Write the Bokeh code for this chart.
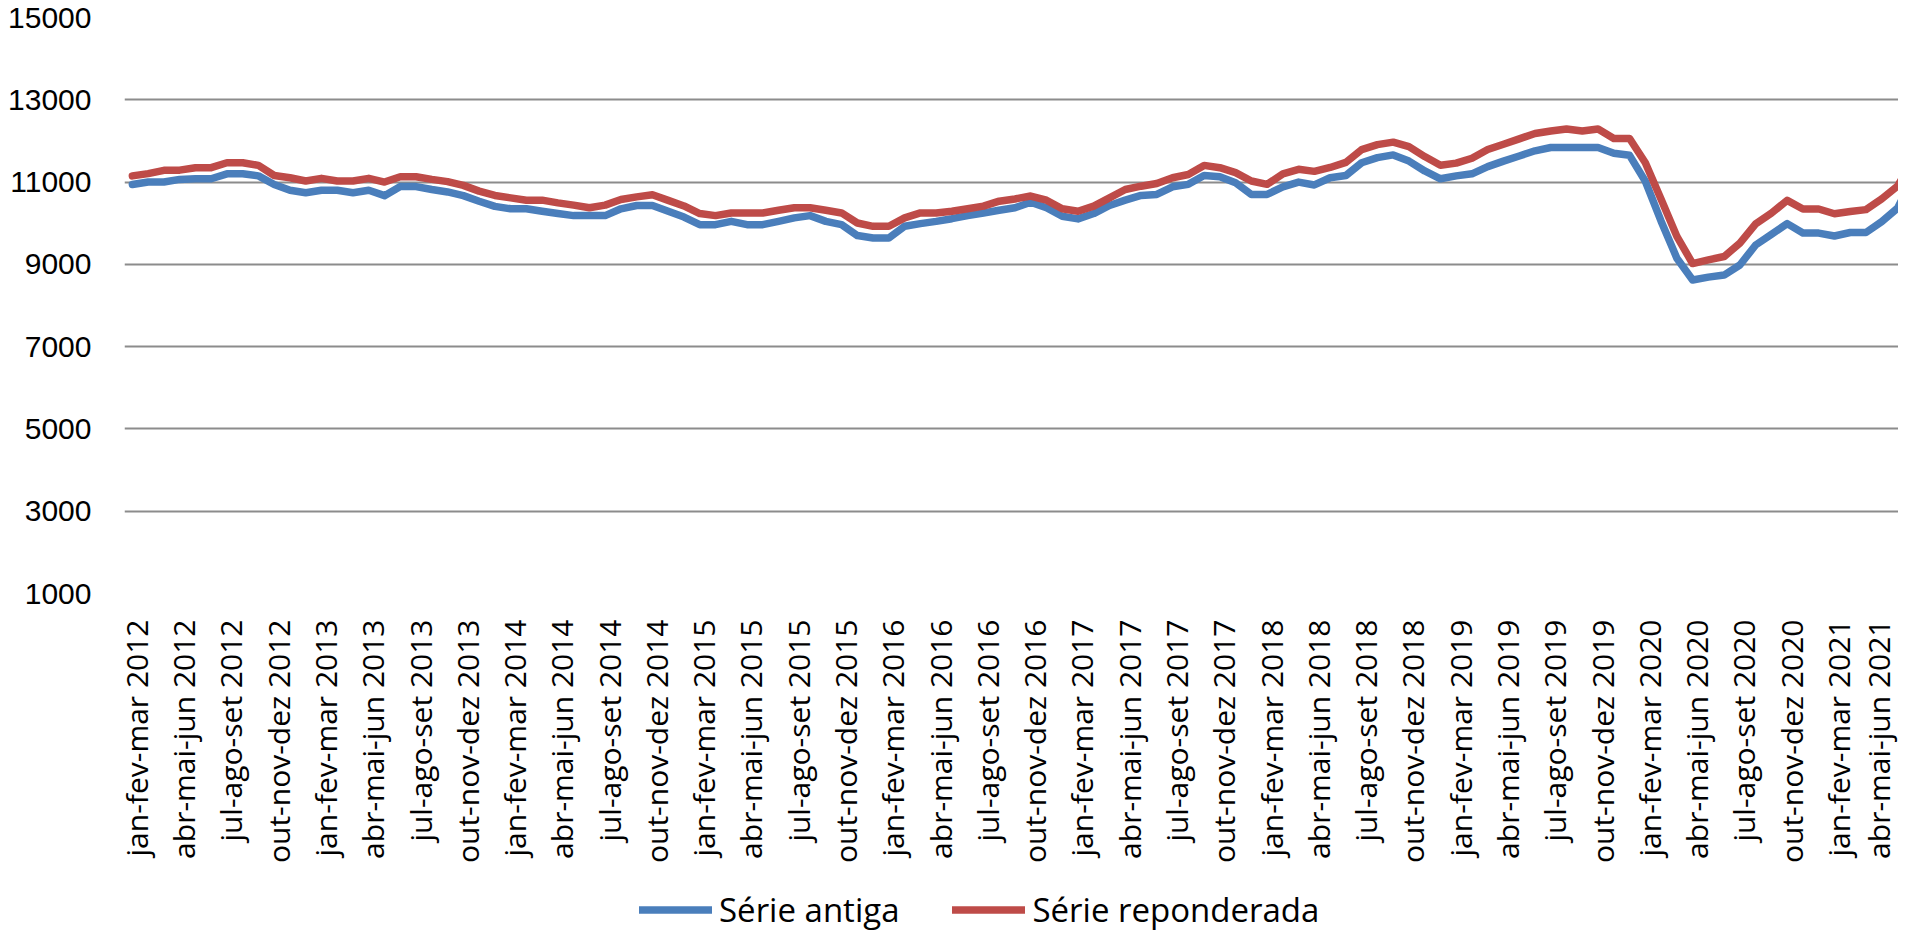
import math
from bokeh.plotting import figure
from bokeh.layouts import column
from bokeh.models import Range1d, FixedTicker, Legend, LegendItem
from bokeh.embed import file_html
from bokeh.resources import INLINE

# ---------------- data ----------------
months = ["jan", "fev", "mar", "abr", "mai", "jun", "jul", "ago", "set", "out", "nov", "dez"]
first_year = 2012

serie_antiga = [
    10940, 11000, 11000, 11065, 11080, 11080, 11200, 11200, 11150, 10940, 10800, 10740,
    10800, 10800, 10740, 10800, 10670, 10890, 10890, 10820, 10760, 10670, 10535, 10410,
    10350, 10350, 10290, 10235, 10185, 10185, 10185, 10350, 10430, 10430, 10290, 10150,
    9965, 9965, 10045, 9965, 9965, 10045, 10130, 10185, 10045, 9965, 9700, 9640,
    9640, 9925, 9990, 10045, 10110, 10185, 10250, 10315, 10375, 10510, 10375, 10170,
    10105, 10235, 10430, 10560, 10675, 10700, 10885, 10945, 11160, 11130, 10985, 10700,
    10700, 10885, 11000, 10930, 11105, 11160, 11470, 11595, 11660, 11510, 11270, 11080,
    11150, 11200, 11375, 11510, 11635, 11760, 11840, 11840, 11840, 11840, 11700, 11650,
    11020, 10050, 9150, 8620, 8690, 8740, 8985, 9470, 9730, 9990, 9760, 9760,
    9690, 9775, 9775, 10040, 10365, 11100,
]

serie_reponderada = [
    11150, 11205, 11285, 11290, 11350, 11350, 11470, 11470, 11405, 11160, 11105, 11025,
    11090, 11025, 11025, 11090, 11000, 11130, 11130, 11065, 11010, 10920, 10780, 10675,
    10615, 10560, 10560, 10495, 10440, 10375, 10440, 10575, 10640, 10690, 10555, 10420,
    10235, 10185, 10250, 10250, 10250, 10315, 10375, 10375, 10315, 10250, 10005, 9925,
    9925, 10130, 10250, 10250, 10290, 10350, 10415, 10535, 10590, 10660, 10560, 10350,
    10290, 10415, 10615, 10820, 10900, 10965, 11105, 11185, 11405, 11350, 11230, 11025,
    10945, 11200, 11310, 11260, 11355, 11480, 11790, 11910, 11970, 11860, 11620, 11410,
    11460, 11580, 11790, 11920, 12050, 12180, 12240, 12290, 12240, 12290, 12060, 12060,
    11470, 10580, 9680, 9020, 9110, 9190, 9515, 9985, 10245, 10555, 10345, 10345,
    10230, 10285, 10330, 10590, 10900, 11550,
]

y_ticks = [1000, 3000, 5000, 7000, 9000, 11000, 13000, 15000]
series_names = ["Série antiga", "Série reponderada"]
series_colors = ["#4A7EBB", "#BE4B48"]

# rolling-quarter category labels (year of the quarter's last month)
n = len(serie_antiga)
categories = []
for i in range(n):
    last_year = first_year + (i + 2) // 12
    categories.append(f"{months[i % 12]}-{months[(i + 1) % 12]}-{months[(i + 2) % 12]} {last_year}")
x_idx = list(range(n))
series_values = [serie_antiga, serie_reponderada]

# ---------------- main figure ----------------
W = 1898
H_MAIN, H_LEG = 872, 64
LEFT, TOP = 124, 17
FRAME_H = 576
unit = 15.76
frame_w = W - LEFT
x_end = -0.5 + frame_w / unit

FONT = "Open Sans"
LINE_W = 7.5
LABEL_SHIFT = 0.25   # small optical nudge of the rotated category labels

p = figure(
    width=W, height=H_MAIN,
    x_range=Range1d(-0.5, x_end), y_range=Range1d(1000, 15000),
    output_backend="svg", toolbar_location=None,
    min_border_left=LEFT, min_border_right=0, min_border_top=TOP,
    min_border_bottom=H_MAIN - TOP - FRAME_H,
)
p.outline_line_color = None
p.background_fill_color = "white"
p.border_fill_color = "white"

# y axis
p.yaxis.ticker = FixedTicker(ticks=y_ticks)
p.yaxis.major_label_text_font = "Liberation Sans"
p.yaxis.major_label_text_font_size = "30px"
p.yaxis.major_label_text_color = "black"
p.yaxis.major_label_standoff = 33
p.yaxis.major_tick_in = 0
p.yaxis.major_tick_out = 0
p.yaxis.minor_tick_in = 0
p.yaxis.minor_tick_out = 0
p.yaxis.axis_line_color = None

# x axis
label_idx = list(range(0, n, 3))
x_ticks = [t + LABEL_SHIFT for t in label_idx]
p.xaxis.ticker = FixedTicker(ticks=x_ticks)
p.xaxis.major_label_overrides = {t + LABEL_SHIFT: categories[t] for t in label_idx}
p.xaxis.major_label_orientation = math.pi / 2
p.xaxis.major_label_text_font = FONT
p.xaxis.major_label_text_font_size = "30px"
p.xaxis.major_label_text_color = "black"
p.xaxis.major_label_standoff = 26
p.xaxis.major_tick_in = 0
p.xaxis.major_tick_out = 0
p.xaxis.minor_tick_in = 0
p.xaxis.minor_tick_out = 0
p.xaxis.axis_line_color = None

# grid
p.xgrid.visible = False
p.ygrid.grid_line_color = "#8C8C8C"
p.ygrid.grid_line_width = 2

# lines
for vals, col in zip(series_values, series_colors):
    p.line(x_idx, vals, line_color=col, line_width=LINE_W, line_join="round", line_cap="round")

# ---------------- legend strip ----------------
# same series drawn again, but outside this strip's visible range:
# they only serve as legend glyph sources
pl = figure(
    width=W, height=H_LEG,
    x_range=Range1d(-1000, -999), y_range=Range1d(-1000, -999),
    x_axis_type=None, y_axis_type=None,
    output_backend="svg", toolbar_location=None,
    min_border_left=0, min_border_right=0, min_border_top=0, min_border_bottom=0,
)
pl.outline_line_color = None
pl.xgrid.visible = False
pl.ygrid.visible = False

proxies = []
for vals, col in zip(series_values, series_colors):
    proxies.append(pl.line(x_idx, vals, line_color=col, line_width=LINE_W, line_cap="round"))

legend = Legend(
    items=[LegendItem(label=nm, renderers=[r]) for nm, r in zip(series_names, proxies)],
    orientation="horizontal",
    location=(515, 4),
    label_text_font=FONT,
    label_text_font_size="33px",
    label_text_color="black",
    glyph_width=73, glyph_height=33,
    label_standoff=7, spacing=53,
    padding=0, margin=0,
    border_line_color=None, background_fill_alpha=0,
)
pl.add_layout(legend, "center")

layout = column(p, pl, spacing=0)
open("out.html", "w").write(file_html(layout, INLINE))
